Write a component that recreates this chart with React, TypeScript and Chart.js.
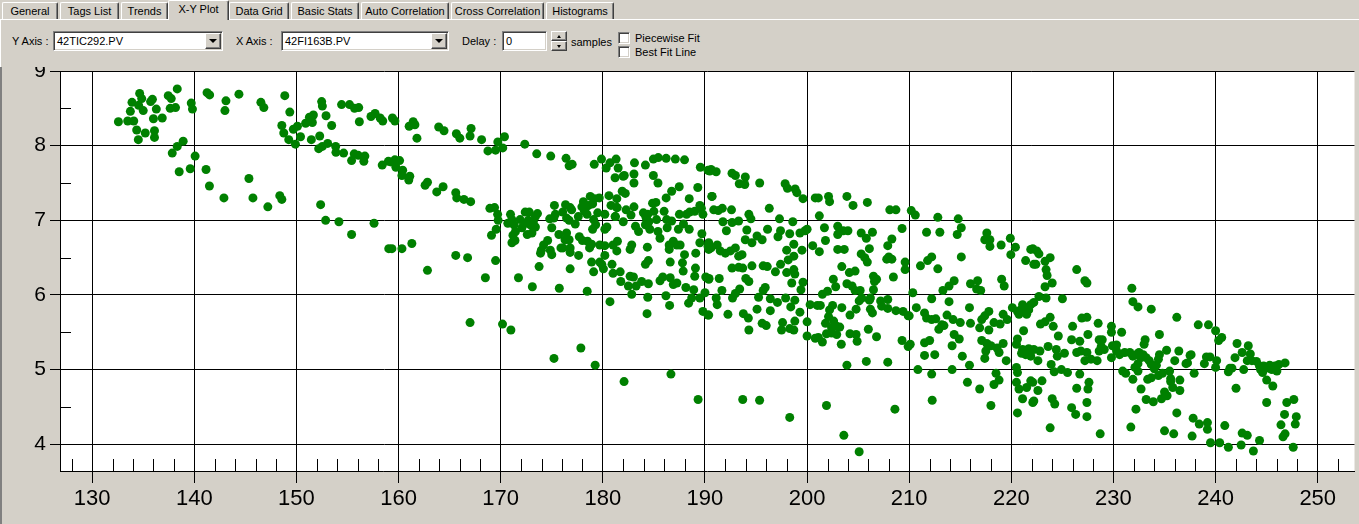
import React, { useEffect, useRef } from "react";
import { Chart, registerables } from "chart.js";

Chart.register(...registerables);

// ---------- DATA (X = 42FI163B.PV, Y = 42TIC292.PV) ----------
const xTicks = [130, 140, 150, 160, 170, 180, 190, 200, 210, 220, 230, 240, 250];
const yTicks = [4, 5, 6, 7, 8, 9];
const xRange = [126.85, 253.6];
const yRange = [3.642, 9];

const lowFlowPoints: [number, number][] = [
  [132.57, 8.32], [133.48, 8.33], [134.07, 8.33], [133.74, 8.46], [133.9, 8.58], [134.65, 8.7], [134.85, 8.63], [134.55, 8.54],
  [135.0, 8.47], [134.36, 8.21], [134.52, 8.08], [135.2, 8.17], [135.72, 8.59], [135.9, 8.62], [136.28, 8.49], [136.0, 8.36],
  [136.1, 8.2], [136.1, 8.11], [136.86, 8.37], [137.45, 8.67], [137.74, 8.63], [138.33, 8.76], [137.64, 8.5], [138.16, 8.51],
  [138.91, 8.06], [138.33, 7.99], [137.84, 7.9], [138.52, 7.65], [139.6, 7.69], [139.7, 8.57], [139.82, 8.49], [140.08, 7.86],
  [141.25, 8.71], [141.5, 8.68], [141.15, 7.68], [141.48, 7.46], [143.1, 8.6], [143.0, 8.47], [142.9, 7.3], [144.37, 8.69],
  [145.35, 7.56], [145.74, 7.3], [146.52, 8.58], [146.81, 8.51], [147.2, 7.18], [148.37, 7.33], [148.57, 7.28], [148.86, 8.67],
  [149.35, 8.45], [148.57, 8.27], [148.76, 8.17], [149.25, 8.08], [149.7, 8.22], [150.1, 8.26], [149.9, 8.02], [150.4, 8.12],
  [150.9, 8.3], [151.27, 8.38], [151.66, 8.41], [151.56, 8.31], [151.46, 8.08], [152.28, 8.13], [152.18, 7.96], [152.54, 7.99],
  [153.06, 8.03], [152.47, 8.59], [152.54, 8.53], [152.9, 8.4], [153.45, 8.27], [152.37, 7.21], [152.86, 7.0], [154.16, 6.98],
  [155.4, 6.81], [153.84, 7.99], [153.87, 7.91], [154.62, 7.9], [154.42, 8.55], [155.2, 8.55], [155.69, 8.5], [156.1, 8.51],
  [156.16, 8.32], [155.66, 7.89], [155.4, 7.8], [156.05, 7.87], [156.7, 7.86], [156.6, 7.79], [157.6, 6.96], [157.3, 8.39],
  [157.7, 8.43], [158.2, 8.37], [158.45, 8.33], [158.4, 7.74], [159.0, 7.79], [159.04, 6.62],
];

const midFlowPoints: [number, number][] = [
  [159.4, 8.37], [159.64, 8.33], [161.04, 8.26], [161.43, 8.32], [161.6, 8.28], [161.8, 8.1], [163.93, 8.25], [164.45, 8.2],
  [165.66, 8.16], [166.0, 8.1], [167.0, 8.13], [167.1, 8.23], [168.13, 8.08], [168.75, 7.93], [169.5, 7.94], [169.72, 8.05],
  [170.2, 7.97], [170.37, 8.12], [172.36, 8.02], [173.53, 7.89], [174.9, 7.86], [176.4, 7.83], [176.7, 7.73], [177.0, 7.75],
  [179.16, 7.75], [179.87, 7.82], [180.33, 7.7], [180.7, 7.77], [181.3, 7.82], [181.5, 7.7], [181.2, 7.57], [182.0, 7.59],
  [183.1, 7.77], [184.17, 7.74], [184.95, 7.82], [185.43, 7.84], [186.2, 7.83], [187.1, 7.82], [188.0, 7.81], [189.55, 7.71],
  [190.3, 7.67], [190.6, 7.68], [182.1, 7.6], [183.05, 7.62], [183.05, 7.5], [184.95, 7.6], [185.4, 7.5], [187.48, 7.45],
  [186.74, 7.39], [189.3, 7.44], [188.46, 7.29], [181.9, 7.39], [182.2, 7.36], [181.37, 7.29], [180.6, 7.33], [180.8, 7.2],
  [181.37, 7.17], [182.28, 7.14], [183.05, 7.18], [182.76, 7.07], [181.2, 7.05], [180.2, 7.08], [190.7, 7.32],
  [159.3, 7.78], [159.64, 7.81], [160.1, 7.8], [159.74, 7.71], [160.4, 7.67], [160.33, 7.6], [161.1, 7.59], [161.0, 7.54],
  [162.6, 7.47], [162.83, 7.51], [163.74, 7.38], [164.36, 7.45], [165.6, 7.37], [165.7, 7.3], [166.4, 7.28], [167.06, 7.25],
  [168.94, 7.16], [169.4, 7.17], [169.7, 7.08], [169.75, 7.0], [169.56, 6.88], [169.1, 6.8], [168.5, 6.23], [169.5, 6.46],
  [167.0, 5.63], [165.6, 6.53], [166.76, 6.5], [162.83, 6.33], [159.35, 6.62], [160.33, 6.62], [161.3, 6.69], [170.18, 5.61],
  [171.0, 5.53], [171.74, 6.23], [173.1, 6.11], [173.76, 6.38], [175.74, 6.09], [176.8, 6.35], [178.47, 6.05], [177.63, 6.53],
  [175.22, 5.15], [177.85, 5.29], [179.25, 5.06], [180.7, 5.91], [182.08, 4.84], [186.67, 4.94], [189.33, 4.6], [184.33, 5.75],
  [186.54, 5.86], [186.18, 5.99], [184.4, 5.97], [182.83, 6.01], [182.5, 6.12], [182.67, 6.25], [181.76, 6.18], [181.7, 6.31],
  [181.0, 6.29], [180.9, 6.41], [180.06, 6.35], [179.9, 6.41], [179.1, 6.31], [178.9, 6.44], [179.7, 6.44], [180.2, 6.53],
  [180.2, 6.66], [181.0, 6.67], [181.37, 6.59], [181.43, 6.72], [182.67, 6.61], [182.83, 6.67], [183.0, 6.24], [183.26, 6.12],
  [183.8, 6.18], [184.46, 6.15], [184.17, 6.41], [184.46, 6.46], [184.36, 6.64], [185.6, 6.19], [185.87, 6.24], [186.6, 6.23],
  [186.9, 6.14], [187.25, 6.16], [186.6, 6.44], [188.13, 6.1], [187.87, 6.32], [187.8, 6.43], [188.0, 6.54], [189.1, 6.56],
  [189.07, 6.36], [189.0, 6.25], [188.9, 6.07], [188.7, 5.96], [188.4, 5.89], [189.5, 5.96], [190.0, 6.03], [189.8, 5.78],
  [190.3, 5.73], [190.08, 6.24], [190.4, 6.22],
  [170.96, 7.08], [171.1, 7.01], [170.7, 6.96], [171.3, 6.94], [171.45, 6.85], [171.2, 6.8], [171.1, 6.7], [171.4, 6.73],
  [171.9, 7.01], [172.08, 6.9], [172.4, 7.11], [172.8, 7.11], [172.4, 6.96], [172.9, 6.94], [173.06, 6.83], [172.6, 6.81],
  [173.4, 6.91], [173.6, 7.09], [173.4, 7.05], [173.98, 6.6], [173.9, 6.56], [174.2, 6.67], [174.6, 6.73], [174.86, 6.6],
  [175.0, 6.54], [174.8, 7.02], [175.2, 7.03], [175.0, 6.9], [175.35, 7.08], [175.26, 7.2], [175.7, 6.81], [175.9, 6.63],
  [176.1, 6.63], [176.07, 7.11], [176.35, 7.21], [176.45, 7.03], [176.7, 7.0], [176.8, 7.17], [176.95, 7.14], [176.45, 6.83],
  [176.3, 6.74], [176.7, 6.74], [176.8, 6.63], [176.8, 6.57], [177.7, 6.78], [178.0, 6.73], [178.1, 7.25], [177.95, 7.18],
  [178.2, 7.12], [178.45, 7.08], [178.77, 7.32], [179.2, 7.29], [179.65, 7.3], [179.1, 7.01], [179.3, 6.94], [179.0, 6.88],
  [179.5, 7.1], [178.5, 6.72], [178.7, 6.63], [178.9, 6.68], [179.7, 6.67], [180.2, 6.88], [180.4, 6.91], [181.24, 7.05],
  [181.4, 7.17], [183.2, 6.92], [183.97, 7.1], [184.3, 7.01], [184.17, 6.94], [184.6, 6.88], [184.87, 7.23], [185.2, 7.24],
  [185.0, 7.12], [185.26, 7.01], [185.4, 6.85], [185.6, 6.76], [186.2, 7.3], [186.0, 7.12], [186.25, 7.01], [186.74, 6.99],
  [186.5, 6.67], [186.5, 6.61], [186.9, 6.72], [187.25, 6.67], [187.57, 6.67], [187.5, 7.08], [187.4, 6.88], [188.2, 7.08],
  [188.46, 6.88], [188.5, 7.11], [189.0, 7.12], [189.5, 7.2], [189.65, 7.16], [189.7, 6.82], [189.5, 6.7], [190.3, 6.65],
  [190.6, 6.63], [189.8, 7.08],
  [184.2, 7.05], [184.5, 6.98], [184.4, 7.08], [178.6, 7.2], [179.0, 7.22], [178.3, 7.16], [172.7, 7.0], [173.2, 6.98],
  [177.3, 6.95], [177.6, 7.05], [183.5, 6.85], [182.0, 6.98], [186.3, 6.9], [187.9, 6.95],
];

const highFlowPoints: [number, number][] = [
  [190.47, 7.66], [191.1, 7.65], [192.65, 7.63], [192.98, 7.6], [193.95, 7.58], [193.36, 7.49], [193.9, 7.48], [195.36, 7.5],
  [197.85, 7.49], [198.08, 7.43], [198.83, 7.42], [199.0, 7.37], [199.6, 7.29], [190.67, 7.32], [190.86, 7.14], [191.3, 7.13],
  [191.7, 7.16], [192.6, 7.14], [191.76, 6.98], [192.66, 6.97], [193.3, 6.99], [192.1, 6.86], [194.1, 6.87], [194.3, 7.08],
  [194.5, 7.02], [196.3, 7.16], [197.3, 7.02], [198.6, 6.98], [196.13, 6.88], [197.15, 6.78], [197.4, 6.86], [198.3, 6.82],
  [199.3, 6.83], [199.8, 6.86], [200.0, 6.88], [190.37, 6.7], [190.37, 6.61], [191.2, 6.67], [191.5, 6.59], [192.0, 6.56],
  [192.5, 6.59], [192.98, 6.63], [193.3, 6.52], [193.63, 6.54], [193.95, 6.74], [194.6, 6.7], [195.1, 6.79], [195.6, 6.74],
  [198.0, 6.6], [198.7, 6.68], [198.7, 6.52], [198.15, 6.47], [199.5, 6.6], [192.65, 6.36], [193.3, 6.37], [193.7, 6.36],
  [194.6, 6.39], [195.7, 6.39], [196.1, 6.38], [196.9, 6.31], [197.4, 6.41], [198.0, 6.3], [198.7, 6.34], [198.8, 6.28],
  [190.37, 6.21], [191.4, 6.22], [194.0, 6.22], [194.3, 6.18], [195.9, 6.1], [195.7, 6.06], [195.25, 5.97], [193.4, 6.08],
  [192.98, 6.02], [192.7, 5.96], [191.66, 6.06], [191.1, 5.96], [191.2, 5.87], [190.37, 5.73], [192.25, 5.74], [193.76, 5.75],
  [194.25, 5.69], [195.1, 5.81], [195.6, 5.62], [196.0, 5.59], [194.3, 5.53], [196.4, 5.95], [196.4, 5.79], [197.1, 5.9],
  [197.9, 5.96], [198.4, 5.84], [198.8, 5.93], [198.5, 6.16], [199.4, 6.07], [199.6, 6.17], [199.3, 5.77], [198.8, 5.65],
  [198.7, 5.53], [197.6, 5.63], [197.5, 5.53], [198.3, 5.55], [200.0, 5.64], [200.0, 5.45], [200.3, 5.87], [201.0, 5.86],
  [201.3, 5.86], [200.55, 6.66], [201.2, 6.58], [201.2, 7.06], [200.8, 7.3], [201.1, 7.3], [202.1, 7.32], [202.2, 7.25],
  [203.9, 7.32], [204.5, 7.2], [205.9, 7.24], [201.7, 6.9], [201.8, 6.73], [203.0, 6.92], [203.0, 6.81], [203.2, 6.85],
  [203.55, 6.86], [204.0, 6.86], [203.0, 6.61], [203.64, 6.61], [205.3, 6.83], [205.8, 6.76], [206.4, 6.84], [206.1, 6.62],
  [205.3, 6.55], [205.65, 6.5], [205.9, 6.44], [203.4, 6.38], [204.14, 6.3], [204.7, 6.32], [202.57, 6.21], [202.8, 6.11],
  [203.9, 6.15], [204.4, 6.12], [204.7, 6.06], [205.2, 6.06], [205.35, 5.96], [206.2, 5.96], [206.5, 6.07], [206.6, 6.18],
  [206.8, 6.21], [206.5, 6.25], [201.5, 6.01], [202.0, 6.05], [202.5, 5.86], [202.2, 5.8], [202.1, 5.71], [201.8, 5.62],
  [202.6, 5.65], [202.4, 5.56], [202.9, 5.58], [203.2, 5.57], [202.4, 5.49], [202.9, 5.47], [201.9, 5.48], [201.5, 5.37],
  [201.1, 5.43], [200.8, 5.42], [203.4, 5.83], [204.2, 5.73], [204.8, 5.81], [205.1, 5.92], [206.1, 5.93], [206.2, 5.81],
  [206.4, 5.76], [207.2, 5.92], [207.3, 5.85], [207.9, 5.94], [207.9, 5.82], [208.7, 5.79], [209.4, 5.78], [209.9, 5.72],
  [204.2, 5.48], [204.8, 5.47], [204.9, 5.38], [206.0, 5.54], [206.8, 5.44], [203.35, 5.34], [203.9, 5.06], [205.8, 5.11],
  [207.9, 5.1], [193.7, 4.6], [195.35, 4.59], [198.3, 4.36], [201.9, 4.52], [203.6, 4.12], [205.1, 3.9], [208.6, 4.47],
  [207.9, 6.66], [208.3, 6.75], [207.8, 6.48], [208.3, 6.48], [208.0, 6.51], [208.45, 6.24], [209.6, 6.44], [209.6, 6.34],
  [209.3, 6.89], [208.1, 7.14], [208.7, 7.14], [210.2, 7.13], [210.6, 7.07], [212.8, 7.04], [214.8, 7.02], [215.1, 6.9],
  [214.7, 6.81], [213.0, 6.84], [211.7, 6.84], [215.1, 6.51], [211.8, 6.46], [212.2, 6.51], [211.1, 6.39], [212.8, 6.35],
  [210.35, 6.03], [210.7, 5.83], [210.0, 5.72], [211.5, 5.76], [211.7, 5.69], [212.2, 5.67], [212.6, 5.68], [212.2, 5.95],
  [213.3, 6.06], [213.9, 6.12], [214.4, 6.19], [213.9, 5.91], [213.7, 5.73], [214.3, 5.67], [215.0, 5.63], [213.2, 5.6],
  [212.9, 5.54], [213.4, 5.59], [215.9, 5.83], [216.0, 5.62], [216.9, 5.56], [217.8, 5.53], [217.1, 5.67], [217.4, 5.72],
  [217.8, 5.78], [218.3, 5.63], [218.9, 5.61], [219.2, 5.74], [219.6, 5.67], [216.0, 6.15], [216.7, 6.19], [216.6, 6.08],
  [217.0, 6.06], [219.05, 6.21], [219.3, 6.12], [214.9, 5.41], [214.4, 5.47], [214.2, 5.32], [215.2, 5.18], [215.9, 5.06],
  [214.2, 5.0], [212.2, 4.94], [210.85, 5.0], [211.5, 5.19], [212.5, 5.2], [209.3, 5.39], [209.9, 5.31], [210.1, 5.34],
  [211.5, 5.36], [212.0, 5.39], [217.1, 5.39], [217.6, 5.35], [218.0, 5.32], [217.5, 5.25], [217.4, 5.15], [218.6, 5.29],
  [218.8, 5.23], [219.2, 5.35], [219.5, 5.12], [215.7, 4.83], [216.9, 4.74], [218.3, 4.8], [218.8, 4.86], [218.5, 4.95],
  [218.0, 4.52], [212.25, 4.59], [217.6, 6.83], [217.4, 6.74], [217.9, 6.74], [217.9, 6.65], [219.0, 6.67], [219.9, 6.76],
  [219.95, 6.54], [220.4, 6.64], [221.4, 6.46], [221.9, 6.61], [222.2, 6.41], [220.1, 5.83], [220.6, 5.78], [221.1, 5.87],
  [221.4, 5.83], [221.5, 5.74], [220.75, 5.74], [221.9, 5.87], [221.2, 5.52], [220.6, 5.41], [220.5, 5.34], [221.1, 5.27],
  [221.4, 5.2], [221.5, 5.25], [221.9, 5.18], [220.5, 5.03], [220.6, 4.96], [220.5, 4.83], [220.75, 4.74], [221.9, 4.85],
  [221.5, 4.76], [221.1, 4.61], [222.2, 4.58], [220.6, 4.42],
  [221.0, 5.22], [221.7, 5.28], [220.9, 5.8], [221.7, 5.8],
];

const peakFlowPoints: [number, number][] = [
  [222.1, 6.62], [222.5, 6.59], [222.7, 6.55], [222.4, 6.41], [223.3, 6.45], [223.8, 6.5], [223.4, 6.34], [223.5, 6.26],
  [224.0, 6.16], [223.3, 6.11], [226.4, 6.34], [227.2, 6.19], [227.4, 6.16], [222.2, 5.9], [222.7, 5.98], [223.4, 5.96],
  [225.0, 5.95], [222.85, 5.61], [223.3, 5.64], [223.8, 5.7], [224.1, 5.58], [224.6, 5.45], [226.0, 5.58], [226.9, 5.69],
  [227.4, 5.7], [228.5, 5.62], [229.8, 5.58], [229.8, 5.5], [230.8, 5.5], [231.8, 6.09], [231.9, 5.91], [232.4, 5.84],
  [233.7, 5.81], [236.2, 5.7], [234.5, 5.47], [233.1, 5.4], [233.0, 5.34], [222.2, 5.27], [222.8, 5.25], [222.6, 5.12],
  [223.6, 5.31], [223.9, 5.07], [224.4, 5.27], [224.5, 5.18], [225.2, 5.22], [225.9, 5.4], [226.7, 5.38], [226.4, 5.23],
  [226.8, 5.25], [227.5, 5.47], [227.4, 5.23], [227.2, 5.12], [227.8, 5.14], [228.4, 5.12], [228.6, 5.4], [228.8, 5.31],
  [228.9, 5.4], [228.6, 5.25], [229.1, 5.27], [229.8, 5.16], [224.2, 4.97], [224.9, 5.0], [225.5, 4.96], [226.7, 4.94],
  [222.1, 4.83], [223.0, 4.85], [222.6, 4.72], [222.1, 4.56], [226.4, 4.75], [227.6, 4.83], [227.5, 4.74], [227.4, 4.56],
  [224.0, 4.61], [224.25, 4.54], [225.9, 4.49], [226.3, 4.4], [227.4, 4.37], [223.8, 4.22], [228.7, 4.14], [230.3, 5.33],
  [230.6, 5.2], [231.1, 5.23], [231.6, 5.23], [231.9, 5.18], [232.2, 5.2], [232.5, 5.23], [232.7, 5.16], [232.4, 5.08],
  [232.1, 5.03], [232.4, 4.98], [233.2, 5.16], [233.7, 5.07], [234.2, 5.06], [234.5, 5.2], [234.4, 5.14], [234.0, 5.01],
  [234.4, 4.92], [234.8, 4.95], [235.2, 5.26], [235.5, 4.98], [235.6, 4.88], [236.0, 5.12], [236.5, 4.86], [237.1, 5.08],
  [237.25, 5.09], [237.6, 5.2], [237.9, 4.95], [238.9, 5.08], [239.1, 5.17], [239.45, 5.17], [240.0, 5.03], [240.1, 5.12],
  [240.3, 5.39], [240.6, 5.43], [241.4, 5.02], [241.25, 4.97], [241.9, 5.16], [242.1, 5.35], [242.6, 5.23], [242.75, 5.0],
  [243.2, 5.32], [243.4, 5.21], [243.55, 5.12], [244.0, 5.11], [244.4, 5.0], [244.7, 5.05], [245.0, 5.03], [245.5, 5.0],
  [245.8, 5.05], [246.2, 5.07], [246.8, 5.09], [246.0, 4.98], [245.3, 5.06], [245.0, 4.86], [245.6, 4.78], [242.0, 4.75],
  [245.0, 4.56], [246.97, 4.56], [247.66, 4.6], [246.75, 4.4], [247.9, 4.37], [247.8, 4.27], [246.4, 4.26], [246.8, 4.14],
  [246.6, 4.1], [247.6, 3.96], [243.7, 3.91], [244.3, 4.05], [243.1, 4.12], [242.6, 4.15], [242.5, 3.99], [241.25, 3.96],
  [240.4, 4.02], [239.5, 4.02], [239.2, 4.29], [239.2, 4.2], [238.4, 4.27], [237.8, 4.35], [237.7, 4.11], [235.9, 4.14],
  [235.0, 4.18], [236.2, 4.42], [240.9, 4.25], [236.5, 4.72], [235.8, 4.76], [235.6, 4.84], [235.25, 4.65], [235.0, 4.7],
  [234.7, 4.61], [233.9, 4.57], [233.2, 4.6], [232.7, 4.74], [232.2, 4.47], [231.7, 4.23], [229.9, 5.32], [230.3, 5.25],
  [230.9, 4.98], [231.2, 4.95], [231.9, 4.87], [233.35, 4.87], [233.7, 4.89], [236.4, 5.25], [237.5, 5.19], [238.3, 5.6],
  [239.3, 5.6], [240.0, 5.52], [241.6, 5.02], [243.1, 5.12], [244.3, 5.05], [244.6, 4.96],
  [245.2, 5.02], [245.9, 5.02], [232.9, 5.2], [233.5, 5.12],
];

// ---------- STYLE ----------
const FACE = "#D4D0C8";
const FONT = '"Liberation Sans", Arial, sans-serif';
const MARKER = "#008000";

const tabs = [
  { label: "General", left: 2, width: 56 },
  { label: "Tags List", left: 60, width: 59 },
  { label: "Trends", left: 121, width: 47 },
  { label: "X-Y Plot", left: 170, width: 57, selected: true },
  { label: "Data Grid", left: 229, width: 60 },
  { label: "Basic Stats", left: 291, width: 68 },
  { label: "Auto Correlation", left: 361, width: 88 },
  { label: "Cross Correlation", left: 451, width: 93 },
  { label: "Histograms", left: 546, width: 68 },
];

const raised: React.CSSProperties = {
  background: FACE,
  borderTop: "1px solid #fff",
  borderLeft: "1px solid #fff",
  borderRight: "1px solid #404040",
  borderBottom: "1px solid #404040",
  boxShadow: "inset -1px -1px #808080",
  boxSizing: "border-box",
};

const sunken: React.CSSProperties = {
  background: "#fff",
  borderTop: "1px solid #808080",
  borderLeft: "1px solid #808080",
  borderRight: "1px solid #fff",
  borderBottom: "1px solid #fff",
  boxShadow: "inset 1px 1px #404040, inset -1px -1px " + FACE,
  boxSizing: "border-box",
};

function Tab({ label, left, width, selected }: any) {
  const style: React.CSSProperties = {
    position: "absolute",
    left: selected ? left - 2 : left,
    top: selected ? 0 : 2,
    width: selected ? width + 4 : width,
    height: selected ? 20 : 17,
    background: FACE,
    borderTop: "1px solid #fff",
    borderLeft: "1px solid #fff",
    borderRight: "1px solid #404040",
    boxShadow: "inset -1px 0 #808080",
    borderTopLeftRadius: 2,
    borderTopRightRadius: 2,
    boxSizing: "border-box",
    fontSize: 11,
    lineHeight: "16px",
    textAlign: "center",
    whiteSpace: "nowrap",
    zIndex: selected ? 3 : 2,
  };
  return <div style={style}>{label}</div>;
}

function Combo({ left, width, text }: any) {
  return (
    <div style={{ ...sunken, position: "absolute", left, top: 31, width, height: 20 }}>
      <span style={{ position: "absolute", left: 3, top: 2, fontSize: 11, lineHeight: "14px" }}>{text}</span>
      <div style={{ ...raised, position: "absolute", right: 1, top: 1, width: 16, height: 16 }}>
        <div
          style={{
            position: "absolute",
            left: 3,
            top: 5,
            width: 0,
            height: 0,
            borderLeft: "4px solid transparent",
            borderRight: "4px solid transparent",
            borderTop: "4px solid #000",
          }}
        />
      </div>
    </div>
  );
}

function Arrow({ up }: any) {
  return (
    <div
      style={{
        position: "absolute",
        left: 5,
        top: 3,
        width: 0,
        height: 0,
        borderLeft: "2.5px solid transparent",
        borderRight: "2.5px solid transparent",
        ...(up ? { borderBottom: "3px solid #000" } : { borderTop: "3px solid #000" }),
      }}
    />
  );
}

function Toolbar() {
  const text: React.CSSProperties = { position: "absolute", fontSize: 11, lineHeight: "14px", whiteSpace: "nowrap" };
  return (
    <div style={{ position: "absolute", left: 0, top: 0, width: 1359, height: 67, background: FACE, fontFamily: FONT, color: "#000", zIndex: 5 }}>
      <div style={{ position: "absolute", left: 0, top: 19, width: 1359, height: 1, background: "#fff" }} />
      <div style={{ position: "absolute", left: 0, top: 19, width: 1, height: 48, background: "#fff" }} />
      {tabs.map((t) => (
        <Tab key={t.label} {...t} />
      ))}
      <span style={{ ...text, left: 12, top: 34 }}>Y Axis :</span>
      <Combo left={53} width={170} text="42TIC292.PV" />
      <span style={{ ...text, left: 236, top: 34 }}>X Axis :</span>
      <Combo left={281} width={168} text="42FI163B.PV" />
      <span style={{ ...text, left: 462, top: 34 }}>Delay :</span>
      <div style={{ ...sunken, position: "absolute", left: 502, top: 31, width: 45, height: 20 }}>
        <span style={{ position: "absolute", left: 3, top: 2, fontSize: 11, lineHeight: "14px" }}>0</span>
      </div>
      <div style={{ ...raised, position: "absolute", left: 551, top: 31, width: 16, height: 10 }}>
        <Arrow up />
      </div>
      <div style={{ ...raised, position: "absolute", left: 551, top: 41, width: 16, height: 10 }}>
        <Arrow />
      </div>
      <span style={{ ...text, left: 571, top: 35 }}>samples</span>
      <div style={{ ...sunken, position: "absolute", left: 618, top: 32, width: 12, height: 12 }} />
      <span style={{ ...text, left: 635, top: 31 }}>Piecewise Fit</span>
      <div style={{ ...sunken, position: "absolute", left: 618, top: 46, width: 12, height: 12 }} />
      <span style={{ ...text, left: 635, top: 45 }}>Best Fit Line</span>
    </div>
  );
}

const plotPlugin = {
  id: "plotDecor",
  beforeDraw(chart: any) {
    const { ctx, chartArea } = chart;
    ctx.save();
    ctx.fillStyle = FACE;
    ctx.fillRect(0, 0, chart.width, chart.height);
    ctx.fillStyle = "#fff";
    ctx.fillRect(chartArea.left, chartArea.top, chartArea.right - chartArea.left, chartArea.bottom - chartArea.top);
    ctx.fillStyle = "#808080";
    ctx.fillRect(0, 60, 2, chart.height - 60);
    ctx.restore();
  },
  beforeDatasetsDraw(chart: any) {
    const { ctx, chartArea } = chart;
    const x = chart.scales.x;
    const y = chart.scales.y;
    ctx.save();
    ctx.strokeStyle = "#000";
    ctx.lineWidth = 1;
    ctx.beginPath();
    for (let i = 0; i < xTicks.length + 1; i++) {
      const base = xTicks[0] - 10 + i * 10;
      for (const off of [2, 4, 6, 8]) {
        const v = base + off;
        if (v < xRange[0] || v > xRange[1]) continue;
        const px = Math.round(x.getPixelForValue(v)) + 0.5;
        ctx.moveTo(px, chartArea.bottom);
        ctx.lineTo(px, chartArea.bottom - 12);
      }
    }
    for (const t of yTicks) {
      const v = t - 0.5;
      if (v < yRange[0]) continue;
      const py = Math.round(y.getPixelForValue(v)) + 0.5;
      ctx.moveTo(chartArea.left, py);
      ctx.lineTo(chartArea.left + 11, py);
    }
    ctx.stroke();
    ctx.restore();
  },
};

function ScatterChart() {
  const ref = useRef<HTMLCanvasElement | null>(null);
  useEffect(() => {
    if (!ref.current) return;
    const all = [...lowFlowPoints, ...midFlowPoints, ...highFlowPoints, ...peakFlowPoints].map(([x, y]) => ({ x, y }));
    const chart = new Chart(ref.current, {
      type: "scatter",
      data: {
        datasets: [
          {
            data: all,
            backgroundColor: MARKER,
            borderColor: MARKER,
            borderWidth: 0,
            pointRadius: 4.5,
            pointHoverRadius: 4.5,
            pointStyle: "circle",
          },
        ],
      },
      options: {
        responsive: false,
        animation: false,
        events: [],
        layout: { padding: { top: 71, left: 0, right: 0, bottom: 0 } },
        plugins: { legend: { display: false }, tooltip: { enabled: false } },
        scales: {
          x: {
            type: "linear",
            min: xRange[0],
            max: xRange[1],
            afterFit: (s: any) => {
              s.height = 53;
            },
            afterBuildTicks: (s: any) => {
              s.ticks = xTicks.map((v) => ({ value: v }));
            },
            ticks: {
              autoSkip: false,
              maxRotation: 0,
              color: "#000",
              padding: 3,
              font: { family: FONT, size: 22 },
              callback: (v: any) => String(v),
            },
            grid: { color: "#000", lineWidth: 1, tickLength: 12, tickColor: "#000", drawTicks: true },
            border: { color: "#000", width: 1 },
          },
          y: {
            type: "linear",
            min: yRange[0],
            max: yRange[1],
            afterFit: (s: any) => {
              s.width = 60;
            },
            afterBuildTicks: (s: any) => {
              s.ticks = yTicks.map((v) => ({ value: v }));
            },
            ticks: {
              autoSkip: false,
              color: "#000",
              padding: 4,
              font: { family: FONT, size: 21 },
              callback: (v: any) => String(v),
            },
            grid: { color: "#000", lineWidth: 1, tickLength: 10, tickColor: "#000", drawTicks: true },
            border: { color: "#000", width: 1 },
          },
        },
      },
      plugins: [plotPlugin],
    } as any);
    return () => chart.destroy();
  }, []);
  return <canvas ref={ref} width={1359} height={524} style={{ position: "absolute", left: 0, top: 0, width: 1359, height: 524 }} />;
}

export default function App() {
  return (
    <div style={{ position: "fixed", left: 0, top: 0, width: 1359, height: 524, background: FACE, overflow: "hidden", fontFamily: FONT }}>
      <ScatterChart />
      <Toolbar />
    </div>
  );
}
